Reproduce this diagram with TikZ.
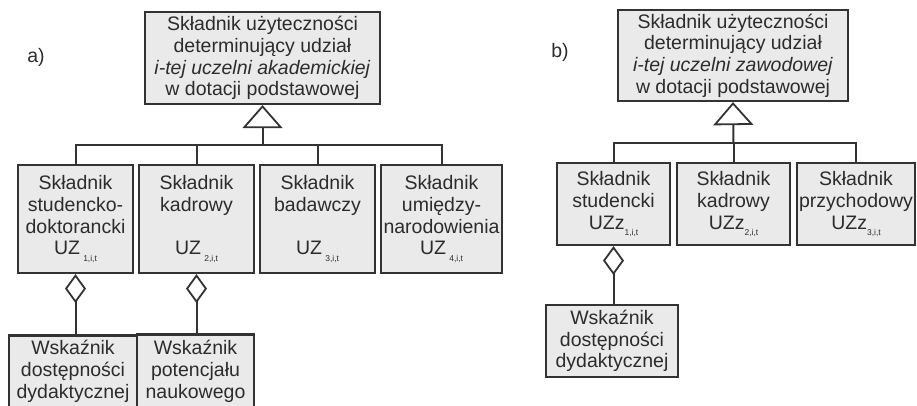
\documentclass[tikz,border=0pt]{standalone}
\usepackage{fontspec}
\setmainfont{Liberation Sans}
\usetikzlibrary{arrows.meta}
\definecolor{boxfill}{HTML}{EAEAEA}
\definecolor{boxline}{HTML}{333333}
\definecolor{ink}{HTML}{2C2C2C}
\newcommand{\boxfont}{\fontsize{19.5}{21.7}\selectfont}
\newcommand{\idx}[1]{\raisebox{-0.6ex}{\fontsize{8.5}{8.5}\selectfont#1}}
\tikzset{
  unit/.style={draw=boxline, fill=boxfill, line width=2.2pt, inner sep=0pt,
    align=center, font=\boxfont, text=ink},
  bus/.style={draw=boxline, line width=2pt},
  gen/.style={bus, -{Triangle[open, length=23pt, width=40pt, line width=1.8pt]}},
  agg/.style={bus, {Diamond[open, length=29pt, width=21pt, line width=1.8pt]}-},
  tag/.style={font=\boxfont, text=ink}
}
\begin{document}
\begin{tikzpicture}[x=1pt, y=-1pt]
    \clip (0,0) rectangle (917,405);
    % a) uczelnia akademicka
    \node[tag] (la) at (36,57) {a)};
    \node[unit, minimum width=235, minimum height=92] (topA) at (262.5,58)
        {Składnik użyteczności\\determinujący udział\\\textit{i-tej uczelni akademickiej}\\w dotacji podstawowej};
    \node[unit, minimum width=115, minimum height=108] (ka1) at (75.5,219)
        {Składnik\\studencko-\\doktorancki\\UZ\,\idx{1,i,t}};
    \node[unit, minimum width=115, minimum height=108] (ka2) at (196.5,219)
        {Składnik\\kadrowy\\~\\UZ\,\idx{2,i,t}};
    \node[unit, minimum width=115, minimum height=108] (ka3) at (317.5,219)
        {Składnik\\badawczy\\~\\UZ\,\idx{3,i,t}};
    \node[unit, minimum width=121, minimum height=108] (ka4) at (441.5,219)
        {Składnik\\umiędzy-\\narodowienia\\UZ\,\idx{4,i,t}};
    \node[unit, minimum width=128, minimum height=72] (wa1) at (73,371.5)
        {Wskaźnik\\dostępności\\dydaktycznej};
    \node[unit, minimum width=117, minimum height=74] (wa2) at (195.5,371.5)
        {Wskaźnik\\potencjału\\naukowego};
    \coordinate (busA) at (262.5,145);
    \draw[gen] (busA) -- (topA.south);
    \draw[bus] (ka1.north) |- (busA) -| (ka4.north);
    \draw[bus] (ka2.north) -- (ka2.north |- busA);
    \draw[bus] (ka3.north) -- (ka3.north |- busA);
    \draw[agg] (ka1.south) -- (ka1.south |- wa1.north);
    \draw[agg] (ka2.south) -- (ka2.south |- wa2.north);
    % b) uczelnia zawodowa
    \node[tag] (lb) at (560,52) {b)};
    \node[unit, minimum width=230, minimum height=91] (topB) at (733,55.5)
        {Składnik użyteczności\\determinujący udział\\\textit{i-tej uczelni zawodowej}\\w dotacji podstawowej};
    \node[unit, minimum width=113, minimum height=82] (kb1) at (613.5,204)
        {Składnik\\studencki\\UZz\idx{1,i,t}};
    \node[unit, minimum width=113, minimum height=82] (kb2) at (733.5,204)
        {Składnik\\kadrowy\\UZz\idx{2,i,t}};
    \node[unit, minimum width=118, minimum height=82] (kb3) at (856,204)
        {Składnik\\przychodowy\\UZz\idx{3,i,t}};
    \node[unit, minimum width=132, minimum height=72] (wb1) at (612,341)
        {Wskaźnik\\dostępności\\dydaktycznej};
    \coordinate (busB) at (733.5,143);
    \draw[gen] (busB) -- (topB.south);
    \draw[bus] (kb1.north) |- (busB) -| (kb3.north);
    \draw[bus] (kb2.north) -- (kb2.north |- busB);
    \draw[agg] (kb1.south) -- (kb1.south |- wb1.north);
\end{tikzpicture}
\end{document}
